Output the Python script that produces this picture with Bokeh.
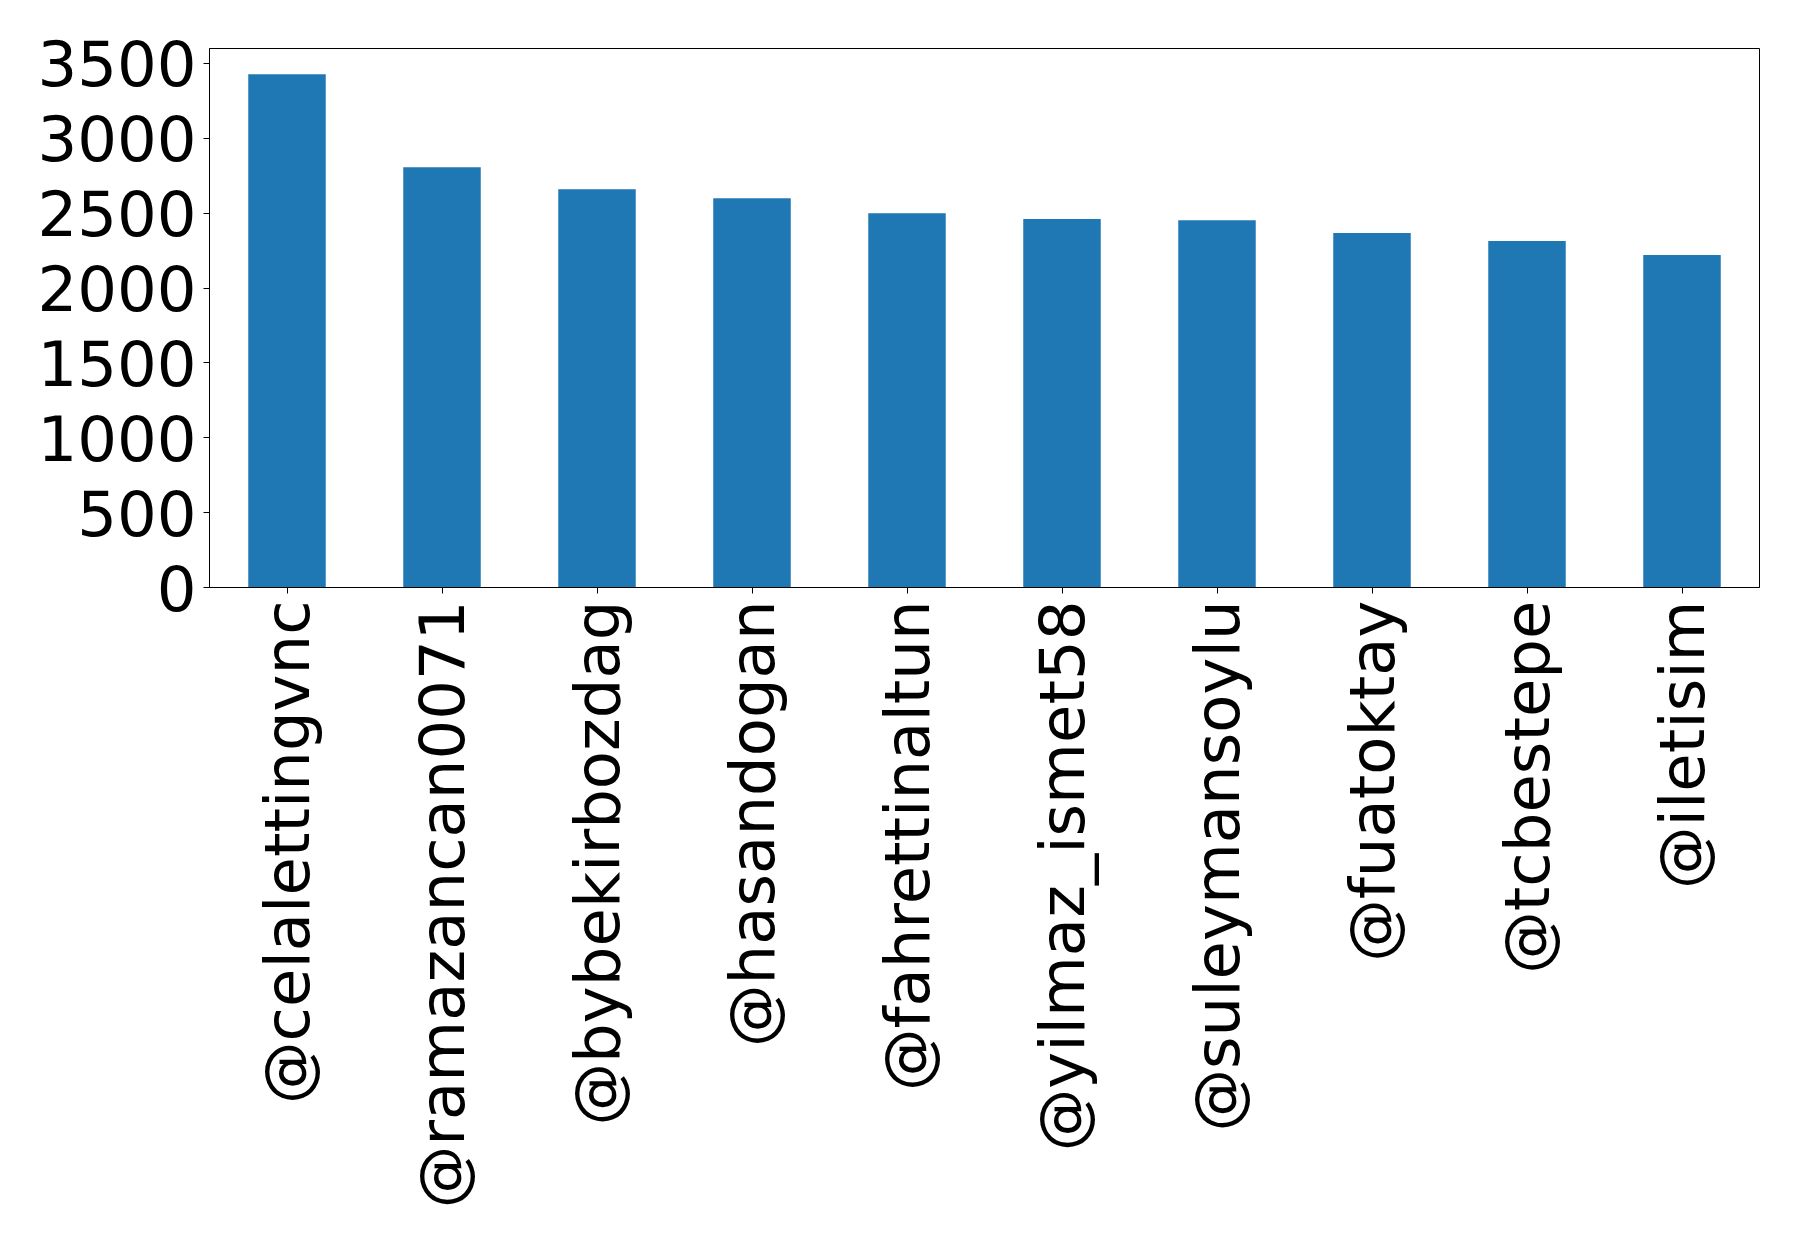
from bokeh.plotting import figure
from bokeh.models import ColumnDataSource, FactorRange, Range1d, FixedTicker
from bokeh.embed import file_html
from bokeh.resources import INLINE
import math

# Accounts and their counts
accounts = [
    "@celalettingvnc", "@ramazancan0071", "@bybekirbozdag", "@hasandogan",
    "@fahrettinaltun", "@yilmaz_ismet58", "@suleymansoylu", "@fuatoktay",
    "@tcbestepe", "@iletisim",
]
counts = [3428, 2807, 2660, 2599, 2500, 2461, 2452, 2367, 2314, 2220]
y_ticks = [0, 500, 1000, 1500, 2000, 2500, 3000, 3500]

source = ColumnDataSource(data=dict(account=accounts, count=counts))

p = figure(
    width=1798, height=1244,
    x_range=FactorRange(*accounts),
    y_range=Range1d(0, max(counts) * 1.05),
    output_backend="svg", toolbar_location=None,
    min_border_left=209, min_border_right=39,
    min_border_top=48, min_border_bottom=657,
)

p.vbar(x="account", top="count", width=0.5, source=source,
       fill_color="#1f77b4", line_color=None)

p.xgrid.visible = False
p.ygrid.visible = False
p.outline_line_color = "black"
p.outline_line_width = 1
p.background_fill_color = "white"
p.border_fill_color = "white"

for ax in (p.xaxis[0], p.yaxis[0]):
    ax.axis_line_color = "black"
    ax.major_tick_line_color = "black"
    ax.major_tick_out = 6
    ax.major_tick_in = 0
    ax.minor_tick_line_color = None
    ax.major_label_text_font = "DejaVu Sans"
    ax.major_label_text_font_size = "62.5px"
    ax.major_label_text_color = "black"
    ax.major_label_standoff = 7

p.yaxis[0].ticker = FixedTicker(ticks=y_ticks)
p.xaxis[0].major_label_orientation = math.pi / 2

with open("out.html", "w") as f:
    f.write(file_html(p, INLINE))
